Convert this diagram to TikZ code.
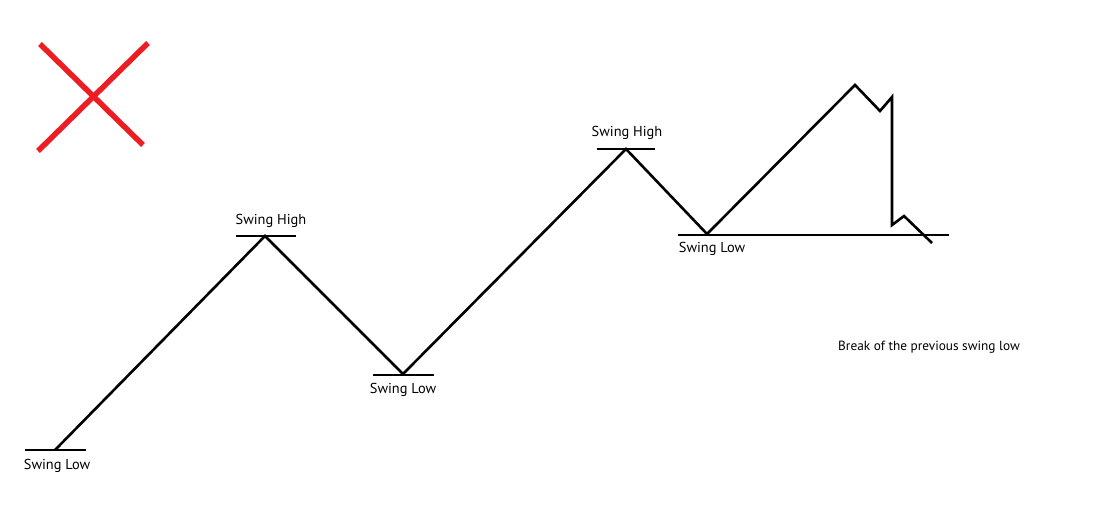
\documentclass[tikz,border=0pt]{standalone}
\usepackage{fontspec}
\setmainfont{PT Sans}
\begin{document}
\begin{tikzpicture}[x=1pt,y=-1pt,
  price/.style={line width=2.6pt,black,line join=miter},
  tick/.style={line width=2.6pt,black},
  lbl/.style={font=\fontsize{14.4}{16}\selectfont,inner sep=0pt},
  cross/.style={line width=5.5pt,color=xred}]
\definecolor{xred}{RGB}{236,30,36}
\useasboundingbox (0,0) rectangle (1094,532);
% red X
\coordinate (x1a) at (40,44); \coordinate (x1b) at (143,145);
\coordinate (x2a) at (38,151); \coordinate (x2b) at (148,43);
\draw[cross] (x1a) -- (x1b);
\draw[cross] (x2a) -- (x2b);
% price path
\coordinate (p0) at (55,450);
\coordinate (p1) at (265,236);
\coordinate (p2) at (403,374);
\coordinate (p3) at (626,149);
\coordinate (p4) at (707,234);
\coordinate (p5) at (855,85);
\coordinate (p6) at (880,111);
\coordinate (p7) at (892,97);
\coordinate (p8) at (892,225);
\coordinate (p9) at (904,216);
\coordinate (p10) at (932,243);
\draw[price] (p0) -- (p1) -- (p2) -- (p3) -- (p4) -- (p5) -- (p6) -- (p7) -- (p8) -- (p9) -- (p10);
% level ticks
\coordinate (t1a) at (25,450); \coordinate (t1b) at (86,450);
\coordinate (t2a) at (236,236); \coordinate (t2b) at (296,236);
\coordinate (t3a) at (373,375); \coordinate (t3b) at (434,375);
\coordinate (t4a) at (597,149); \coordinate (t4b) at (655,149);
\coordinate (t5a) at (678,235); \coordinate (t5b) at (949,235);
\draw[tick] (t1a) -- (t1b);
\draw[tick] (t2a) -- (t2b);
\draw[tick] (t3a) -- (t3b);
\draw[tick] (t4a) -- (t4b);
\draw[tick] (t5a) -- (t5b);
% labels
\node[lbl] (l1) at (57,466) {Swing Low};
\node[lbl] (l2) at (271,221) {Swing High};
\node[lbl] (l3) at (403,390) {Swing Low};
\node[lbl] (l4) at (627,133) {Swing High};
\node[lbl] (l5) at (712,249) {Swing Low};
\node[lbl,font=\fontsize{13.3}{15}\selectfont] (l6) at (929,347) {Break of the previous swing low};
\end{tikzpicture}
\end{document}
